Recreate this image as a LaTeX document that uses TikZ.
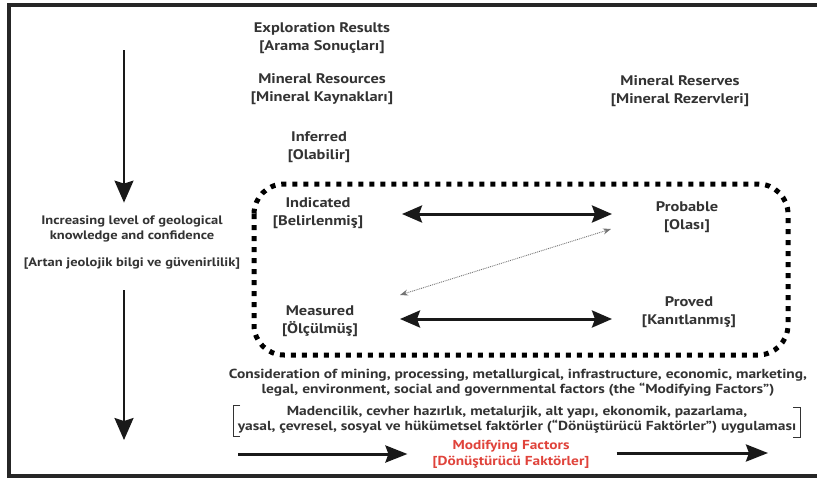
\documentclass[tikz,border=0pt]{standalone}
\usepackage{fontspec}
\setmainfont[FakeStretch=1.18]{PT Sans}
\usetikzlibrary{arrows.meta}
\definecolor{txt}{HTML}{333333}
\definecolor{redtxt}{HTML}{E0433B}
\tikzset{
  lbl/.style={align=center, text=txt, font=\bfseries\fontsize{13.9}{17.5}\selectfont, inner sep=1pt},
  small/.style={align=center, text=txt, font=\bfseries\fontsize{12.3}{15}\selectfont, inner sep=1pt},
  bot/.style={align=center, text=txt, font=\bfseries\fontsize{13.1}{15}\selectfont, inner sep=1pt},
  vert/.style={line width=2pt, black!90, -{Stealth[length=22pt,width=19pt,inset=3pt]}},
  dbl/.style={line width=3pt, black!90, {Stealth[length=20pt,width=17pt,inset=3pt]}-{Stealth[length=20pt,width=17pt,inset=3pt]}},
  horiz/.style={line width=3pt, black!90, -{Stealth[length=22pt,width=17pt,inset=3pt]}},
  thin/.style={line width=0.9pt, black!55, densely dotted, {Stealth[length=8pt,width=6pt]}-{Stealth[length=8pt,width=6pt]}},
  dotbox/.style={line width=5pt, black, dash pattern=on 5pt off 6pt, rounded corners=30pt},
}
\begin{document}
\begin{tikzpicture}[x=1pt,y=-1pt]
\useasboundingbox (0,0) rectangle (817,480);
\fill[white] (0,0) rectangle (817,480);
% frame
\draw[line width=4pt, black!85] (840,5) -- (9,5) -- (9,476) -- (840,476);

% dotted box
\draw[dotbox] (254,184) rectangle (788,355);

% text nodes
\node[lbl] (expl) at (322,38) {Exploration Results\\{[}Arama Sonuçları{]}};
\node[lbl] (res) at (322,89) {Mineral Resources\\{[}Mineral Kaynakları{]}};
\node[lbl] (resv) at (680,91) {Mineral Reserves\\{[}Mineral Rezervleri{]}};
\node[lbl] (inf) at (319,147) {Inferred\\{[}Olabilir{]}};
\node[lbl] (ind) at (318,213) {Indicated\\{[}Belirlenmiş{]}};
\node[lbl] (prob) at (687,217) {Probable\\{[}Olası{]}};
\node[lbl] (meas) at (320,321) {Measured\\{[}Ölçülmüş{]}};
\node[lbl] (prov) at (689,312) {Proved\\{[}Kanıtlanmış{]}};

\node[small] (know) at (132,229) {Increasing level of geological\\knowledge and confidence};
\node[small] (knowtr) at (132,263) {{[}Artan jeolojik bilgi ve güvenirlilik{]}};

\node[bot] (cons) at (518,383) {Consideration of mining, processing, metallurgical, infrastructure, economic, marketing,\\legal, environment, social and governmental factors (the “Modifying Factors”)};
\node[bot] (constr) at (517,420) {Madencilik, cevher hazırlık, metalurjik, alt yapı, ekonomik, pazarlama,\\yasal, çevresel, sosyal ve hükümetsel faktörler (“Dönüştürücü Faktörler”) uygulaması};
\node[lbl, text=redtxt, font=\bfseries\fontsize{13}{16}\selectfont] (mod) at (511,454) {Modifying Factors\\{[}Dönüştürücü Faktörler{]}};

% brackets around Turkish text
\draw[line width=1pt, black!80] (240,405) -- (233,405) -- (233,436) -- (240,436);
\draw[line width=1pt, black!80] (793,407) -- (800,407) -- (800,437) -- (793,437);

% vertical arrows
\coordinate (vtop) at (124,50);
\coordinate (vbot) at (124,440);
\draw[vert] (vtop) -- ([yshift=12pt]know.north -| vtop);
\draw[vert] ([yshift=-20pt]knowtr.south -| vbot) -- (vbot);

% horizontal double arrows
\coordinate (a1) at ([xshift=84pt,yshift=-1pt]ind.center);
\coordinate (b1) at ([xshift=80pt,yshift=2pt]meas.center);
\draw[dbl] (a1) -- ([xshift=-75pt]prob.center |- a1);
\draw[dbl] (b1) -- ([xshift=-77pt]prov.center |- b1);

% thin diagonal arrow
\coordinate (d1) at (400,295);
\coordinate (d2) at (611,229);
\draw[thin] (d1) -- (d2);

% bottom arrows
\coordinate (la) at (238,454);
\coordinate (ra) at (768,453);
\draw[horiz] (la) -- ([xshift=-24pt]mod.west |- la);
\draw[horiz] ([xshift=26pt]mod.east |- ra) -- (ra);
\end{tikzpicture}
\end{document}
